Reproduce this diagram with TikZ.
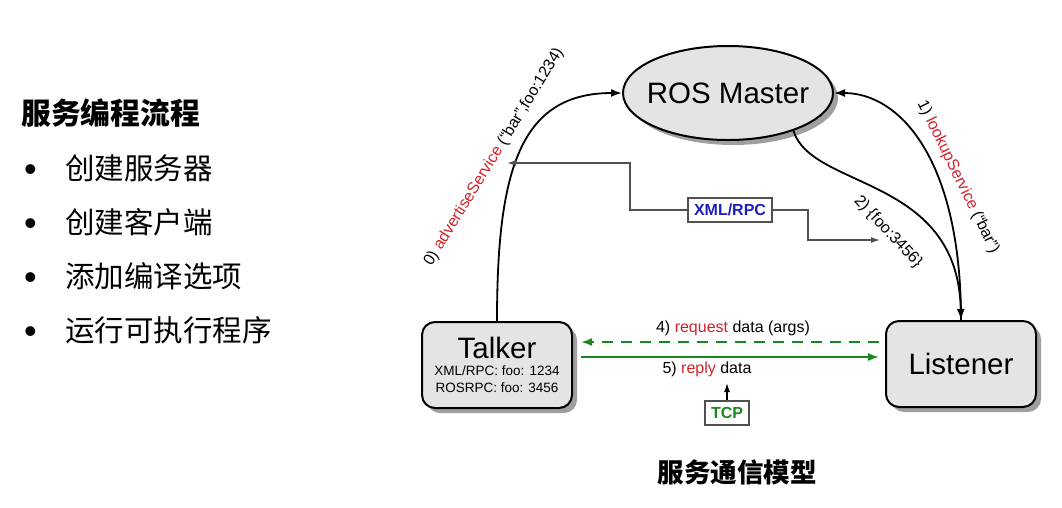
\documentclass[tikz,border=0pt]{standalone}
\usepackage{fontspec}
\setmainfont{Liberation Sans}
\newfontfamily\cjk{Noto Sans CJK SC}
\usepackage{xcolor}
\usetikzlibrary{shapes, arrows.meta, positioning, calc, shadows}
\definecolor{rosred}{RGB}{210,35,45}
\definecolor{rosgreen}{RGB}{25,135,30}
\definecolor{rosblue}{RGB}{30,30,190}
\definecolor{nodegray}{RGB}{228,228,228}
\definecolor{wiregray}{RGB}{80,80,80}
\tikzset{
    master/.style={
        ellipse, draw, line width=2pt, fill=nodegray,
        minimum width=210pt, minimum height=94pt, inner xsep=-7pt, inner ysep=0pt,
        font=\fontsize{29.5}{32}\selectfont,
        drop shadow={shadow xshift=5pt, shadow yshift=-5pt, fill=gray!75, opacity=1}
    },
    rosnode/.style={
        rectangle, rounded corners=13pt, draw, line width=2pt, fill=nodegray,
        minimum width=150pt, minimum height=86pt, inner sep=0pt, align=center,
        font=\fontsize{29.5}{32}\selectfont,
        drop shadow={shadow xshift=5pt, shadow yshift=-5pt, fill=gray!75, opacity=1}
    },
    wirebox/.style={rectangle, draw=wiregray, line width=1.2pt, fill=white, minimum width=84pt, minimum height=24pt, inner sep=0pt, font=\bfseries\fontsize{16}{18}\selectfont},
    msg/.style={inner sep=0pt, font=\fontsize{16}{18}\selectfont},
    % Connector Styles
    call/.style={line width=1.8pt, -{Latex[length=11pt,width=8pt]}},
    wire/.style={draw=wiregray, line width=1.3pt, -{Latex[length=9pt,width=6pt]}},
    request/.style={draw=rosgreen, line width=1.8pt, dashed, dash pattern=on 11pt off 8pt, -{Latex[length=11pt,width=8pt]}},
    reply/.style={draw=rosgreen, line width=1.8pt, -{Latex[length=11pt,width=8pt]}},
    cjkhead/.style={anchor=west, inner sep=0pt, font=\cjk\bfseries\fontsize{29.8}{32}\selectfont},
    cjkitem/.style={anchor=west, inner sep=0pt, font=\cjk\fontsize{29.5}{32}\selectfont}
}
\newcommand{\itembullet}{\makebox[41pt][l]{\rmfamily\fontsize{36}{36}\selectfont\raisebox{-2.5pt}{\textbullet}}}
\begin{document}
\begin{tikzpicture}[x=1pt, y=-1pt]
    \useasboundingbox (0,0) rectangle (1062,507);

    \node (flowtitle) [cjkhead] at (21,113) {服务编程流程};
    \node (step1) [cjkitem] at (24,168) {\itembullet 创建服务器};
    \node (step2) [cjkitem] at (24,222) {\itembullet 创建客户端};
    \node (step3) [cjkitem] at (24,276) {\itembullet 添加编译选项};
    \node (step4) [cjkitem] at (24,330) {\itembullet 运行可执行程序};

    \node (ros) [master] at (728,93) {ROS Master};
    \node (talker) [rosnode, font=\fontsize{13.5}{17}\selectfont] at (497,365)
        {{\fontsize{29.5}{32}\selectfont Talker}\\XML/RPC: foo: 1234\\ROSRPC: foo: 3456};
    \node (listener) [rosnode] at (961,364) {Listener};
    \node (xmlrpc) [wirebox, text=rosblue] at (730,210) {XML/RPC};
    \node (tcp) [wirebox, text=rosgreen, minimum width=44pt] at (727,413) {TCP};
    \node (modeltitle) [inner sep=0pt, font=\cjk\bfseries\fontsize{26.5}{28}\selectfont] at (737,472) {服务通信模型};

    \node (advlabel) [msg, rotate=58.5] at (494,157) {0) \textcolor{rosred}{advertiseService} (“bar”,foo:1234)};
    \node (looklabel) [msg, rotate=-64] at (958,177) {1) \textcolor{rosred}{lookupService} (“bar”)};
    \node (portlabel) [msg, rotate=-47] at (888,232) {2) \{foo:3456\}};
    \node (reqlabel) [msg] at (733,328) {4) \textcolor{rosred}{request} data (args)};
    \node (replylabel) [msg] at (707,369) {5) \textcolor{rosred}{reply} data};

    \coordinate (advin) at (507,163);
    \coordinate (wireleft) at (630,163);
    \coordinate (wireright) at (808,240);
    \coordinate (portin) at (880,240);
    \coordinate (tcpin) at (727,383);

    \draw [call] (talker.north) .. controls (497,170) and (520,93) .. (ros.west);
    \draw [call] (listener.north) .. controls (961,160) and (900,93) .. (ros.east);
    \draw [call] (ros.-30) .. controls (812,190) and (958,175) .. (listener.north);
    \draw [wire] (xmlrpc.west) -| (wireleft) -- (advin);
    \draw [wire] (xmlrpc.east) -| (wireright) -- (portin);
    \draw [request] ($(listener.west)+(-6,-22)$) -- ($(talker.east)+(8,-23)$);
    \draw [reply] ($(talker.east)+(8,-8)$) -- ($(listener.west)+(-6,-7)$);
    \draw [wire, draw=black] (tcp.north) -- (tcpin);
\end{tikzpicture}
\end{document}
